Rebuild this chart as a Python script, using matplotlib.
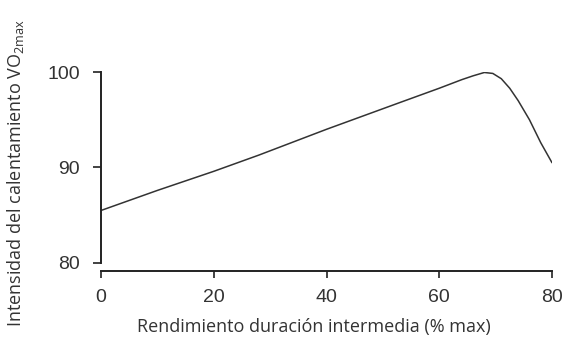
import numpy as np
import matplotlib.pyplot as plt

plt.rcParams['font.family'] = ['Liberation Sans', 'DejaVu Sans']
plt.rcParams['mathtext.fontset'] = 'custom'
plt.rcParams['mathtext.rm'] = 'Open Sans'

# Warm-up intensity vs. middle-distance performance
rendimiento = [0, 10, 20, 28, 40, 53, 60, 64, 66, 68, 69.5, 71, 72.5, 74, 76, 78, 80]
intensidad = [85.5, 87.6, 89.6, 91.3, 94.0, 96.8, 98.3, 99.2, 99.6, 99.95, 99.85, 99.3, 98.3, 97.0, 95.0, 92.6, 90.5]

x_ticks = [0, 20, 40, 60, 80]
y_ticks = [80, 90, 100]

fig = plt.figure(figsize=(5.65, 3.47), dpi=100)
ax = fig.add_axes([0.1788, 0.2421, 0.7982, 0.5504])

ax.plot(rendimiento, intensidad, color='#333333', lw=1.1, solid_capstyle='round')

# spine offset first: set_position resets the tick objects
for side in ['top', 'right']:
    ax.spines[side].set_visible(False)
for side in ['left', 'bottom']:
    ax.spines[side].set_linewidth(1.4)
    ax.spines[side].set_color('#222222')
ax.spines['bottom'].set_position(('outward', 6))

ax.set_xlim(0, 80)
ax.set_ylim(80, 100)
ax.set_xticks(x_ticks)
ax.set_yticks(y_ticks)

ax.tick_params(axis='both', direction='out', width=1.2, color='#222222',
               labelsize=14, labelcolor='#333333')
ax.tick_params(axis='y', length=6, pad=9)
ax.tick_params(axis='x', length=5, pad=8)
ax.set_xticklabels([str(t) for t in x_ticks], family='Liberation Sans')
ax.set_yticklabels([str(t) for t in y_ticks], family='Liberation Sans')

label_font = dict(family='Open Sans', size=13, color='#333333')
ax.set_xlabel('Rendimiento duración intermedia (% max)', va='center', **label_font)
ax.set_ylabel(r'Intensidad del calentamiento VO$_{\mathrm{2max}}$', va='center', **label_font)
ax.xaxis.set_label_coords(0.473, -0.335)
ax.yaxis.set_label_coords(-0.19, 0.47)

fig.savefig('out.png', dpi=100)
